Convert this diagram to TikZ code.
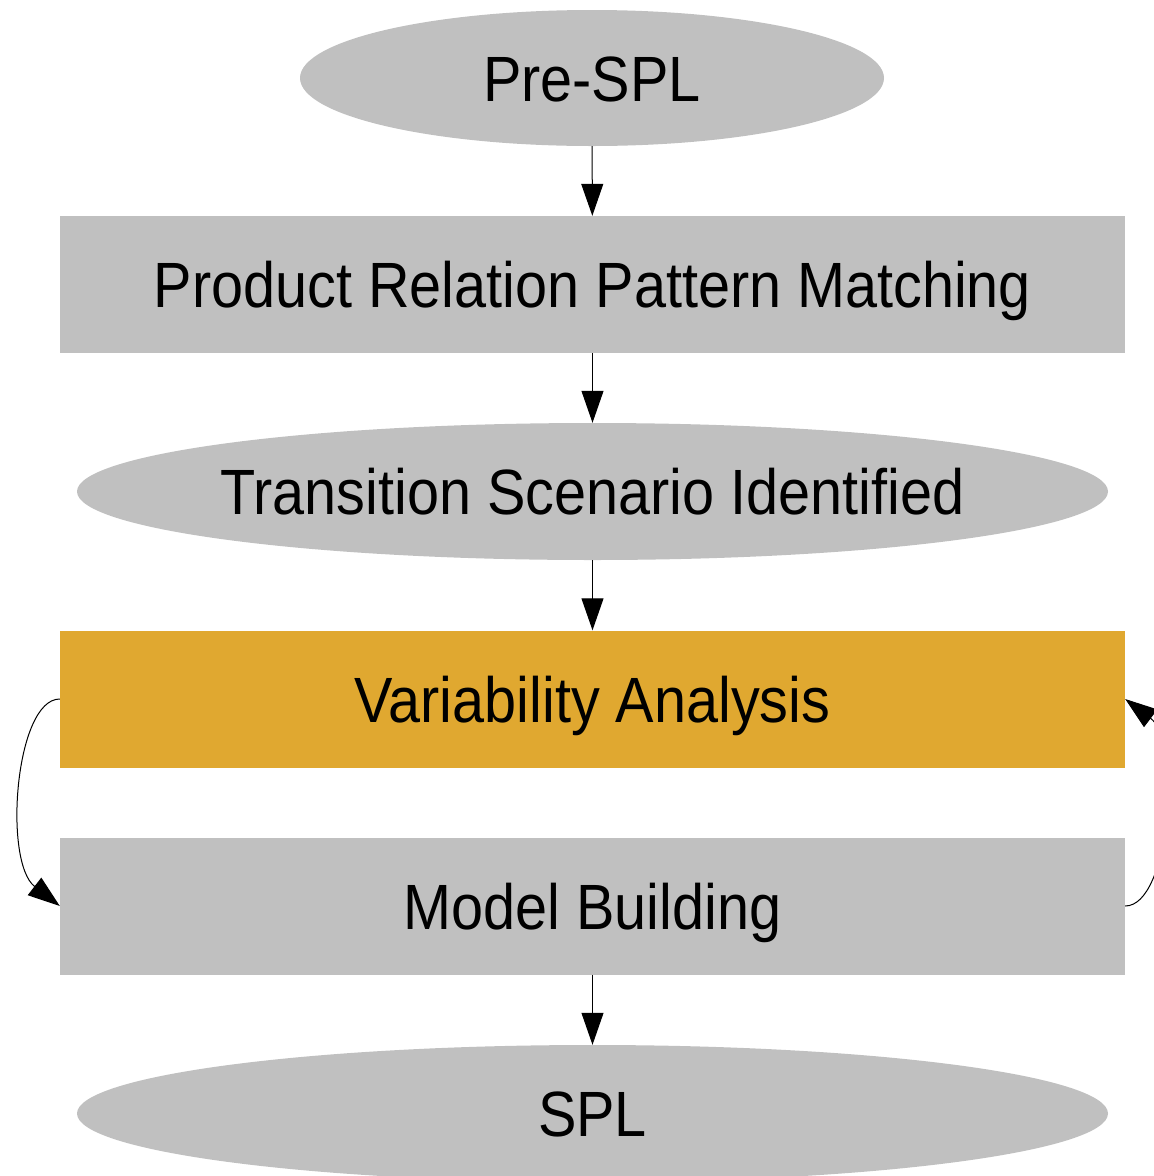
\documentclass[tikz,border=0pt]{standalone}
\usepackage{fontspec}
\setmainfont[FakeStretch=0.9]{Liberation Sans}
\usetikzlibrary{shapes.geometric,arrows.meta}
\definecolor{boxgrey}{HTML}{C0C0C0}
\definecolor{boxgold}{HTML}{E0A830}
\tikzset{
  every node/.style={font=\fontsize{64}{70}\selectfont, text=black, inner sep=0pt, text height=46pt, text depth=0pt},
  rectbox/.style={rectangle, fill=boxgrey, minimum width=1065pt, minimum height=137pt},
  ellbox/.style={ellipse, fill=boxgrey, inner xsep=-40pt},
  conn/.style={line width=1pt, -{Triangle[length=32pt,width=22pt]}},
}
\begin{document}
\begin{tikzpicture}[x=1pt,y=-1pt]
\useasboundingbox (0,0) rectangle (1154,1176);
\node[ellbox, minimum width=584pt, minimum height=136pt] (pre) at (592,78) {Pre-SPL};
\node[rectbox] (prpm) at (592.5,284.5) {Product Relation Pattern Matching};
\node[ellbox, minimum width=1031pt, minimum height=137pt] (tsi) at (592.5,491.5) {Transition Scenario Identified};
\node[rectbox, fill=boxgold] (va) at (592.5,699) {Variability Analysis};
\node[rectbox] (mb) at (592.5,906) {Model Building};
\node[ellbox, minimum width=1031pt, minimum height=137pt] (spl) at (592.5,1113.5) {SPL};
\draw[conn] (pre) -- (prpm);
\draw[conn] (prpm) -- (tsi);
\draw[conn] (tsi) -- (va);
\draw[conn] (mb) -- (spl);
\draw[conn] (va.west) .. controls (15,699) and (3,862) .. (mb.west);
\draw[conn] (mb.east) .. controls (1170,906) and (1182,742) .. (va.east);
\end{tikzpicture}
\end{document}
